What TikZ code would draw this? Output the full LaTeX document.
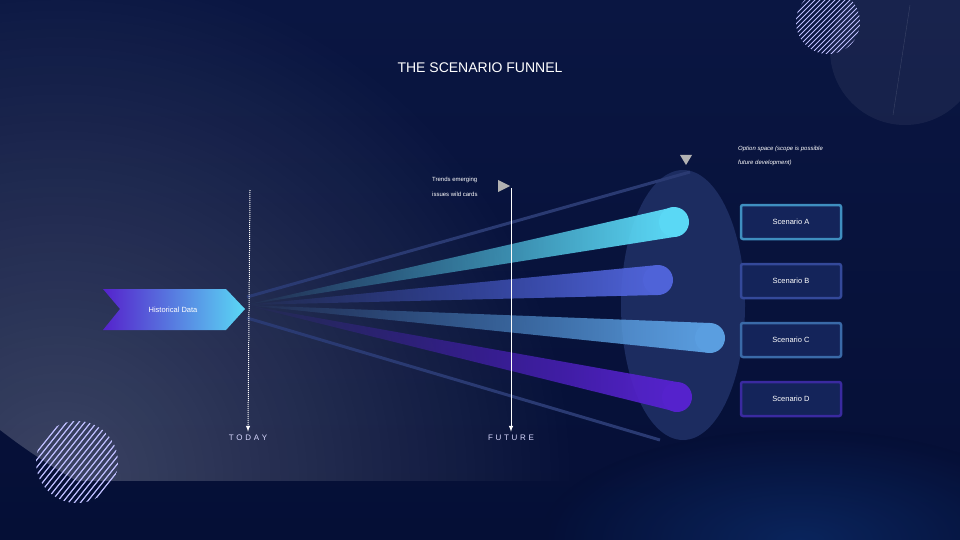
\documentclass[tikz,border=0pt]{standalone}
\usepackage{fontspec}
\setmainfont{Liberation Sans}
\usetikzlibrary{fadings,shapes.geometric}
\definecolor{bgA}{HTML}{0A1642}
\definecolor{bgB}{HTML}{050F36}
\definecolor{bgC}{HTML}{0B2A66}
\definecolor{ell}{HTML}{1C2C60}
\definecolor{cA}{HTML}{5AD8F5}
\definecolor{cB}{HTML}{4F63D8}
\definecolor{cC}{HTML}{5A9EE0}
\definecolor{cD}{HTML}{5522CC}
\definecolor{fun}{HTML}{2A3A72}
\definecolor{boxf}{HTML}{14245A}
\definecolor{eA}{HTML}{3F8FC0}
\definecolor{eB}{HTML}{34499A}
\definecolor{eC}{HTML}{3A6AA8}
\definecolor{eD}{HTML}{3A2AA0}
\tikzfading[name=radfade, inner color=transparent!0, outer color=transparent!100]
\tikzset{
  scen/.style={draw=#1,line width=2.5pt,fill=boxf,rounded corners=2pt,minimum width=100pt,minimum height=34pt,text=white,font=\fontsize{7.5}{9}\selectfont},
  small/.style={text=white,font=\fontsize{6}{8}\selectfont,anchor=west,inner sep=0},
  hatch/.style={white!75!blue,line width=1.2pt}
}
\begin{document}
\begin{tikzpicture}[x=1pt,y=-1pt]
\useasboundingbox (0,0) rectangle (960,540);
\shade[top color=bgA,bottom color=bgB] (0,0) rectangle (960,540);
\shade[inner color=bgC,outer color=bgB,opacity=0.8] (800,540) ellipse (260 and 110);
\begin{scope}
\clip (0,0) rectangle (960,480);
\clip (380,-60) circle (620);
\fill[white,opacity=0.22,path fading=radfade] (60,480) circle (520);
\end{scope}
% top right circles
\fill[white,opacity=0.06] (905,50) circle (75);
\draw[white,opacity=0.15] (910,5) -- (893,115);
\begin{scope}
\clip (828,22) circle (32);
\foreach \i in {-80,-75,...,80} \draw[hatch,line width=1pt] (828+\i-40,62) -- (828+\i+40,-18);
\end{scope}
\begin{scope}
\clip (77,462) circle (41);
\foreach \i in {-90,-84,...,90} \draw[hatch] (77+\i-40,512) -- (77+\i+40,412);
\end{scope}
% title
\node[text=white,font=\fontsize{14}{16}\selectfont] (title) at (480,68) {THE SCENARIO FUNNEL};
% option space
\node[ellipse,fill=ell,minimum width=124pt,minimum height=270pt,inner sep=0] (opt) at (683,305) {};
\coordinate (apex) at (245,305);
\draw[fun,line width=3pt] (247,297) -- (690,172);
\draw[fun,line width=3pt] (247,318) -- (660,440);
% beams
\foreach \x/\y/\c in {674/222/cA,658/280/cB,710/338/cC,677/397/cD}{
  \fill[\c,path fading=west] (apex) -- (\x,\y-15) -- (\x,\y+15) -- cycle;
  \fill[\c] (\x,\y) circle (15);
}
% triangles
\fill[gray!60] (680,155) -- (692,155) -- (686,165) -- cycle;
\fill[gray!60] (498,180) -- (510,186) -- (498,192) -- cycle;
\node[small] (t1) at (432,180) {Trends emerging};
\node[small] (t2) at (432,194) {issues wild cards};
\node[small,font=\fontsize{6}{8}\selectfont\itshape] (o1) at (738,149) {Option space (scope is possible};
\node[small,font=\fontsize{6}{8}\selectfont\itshape] (o2) at (738,163) {future development)};
% today / future
\coordinate (tdtop) at (250,190);
\coordinate (fttop) at (511,188);
\node[text=white!85!blue,font=\fontsize{8}{10}\selectfont] (today) at (248,438) {T\,\,O\,\,D\,\,A\,\,Y};
\node[text=white!85!blue,font=\fontsize{8}{10}\selectfont] (future) at (511,438) {F\,\,U\,\,T\,\,U\,\,R\,\,E};
\draw[white,densely dotted,line width=1pt,-latex] (tdtop) -- (today.north);
\draw[white,line width=1pt,-latex] (fttop) -- (future.north);
% historical data
\shade[left color=cD,right color=cA] (103,289) -- (226,289) -- (245,309) -- (226,330) -- (103,330) -- (120,309) -- cycle;
\node[text=white,font=\fontsize{7.5}{9}\selectfont] (hist) at (173,310) {Historical Data};
% scenario boxes
\node[scen=eA] (sA) at (791,222) {Scenario A};
\node[scen=eB] (sB) at (791,281) {Scenario B};
\node[scen=eC] (sC) at (791,340) {Scenario C};
\node[scen=eD] (sD) at (791,399) {Scenario D};
\end{tikzpicture}
\end{document}
